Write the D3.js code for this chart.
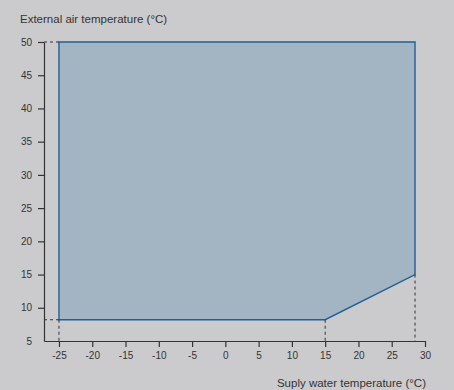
<!DOCTYPE html>
<html><head><meta charset="utf-8">
<script src="https://cdn.jsdelivr.net/npm/d3@7"></script>
<style>
html,body{margin:0;padding:0;background:#cbcbcd;}
svg{display:block;font-family:"Liberation Sans",Arial,sans-serif;}
</style></head>
<body>
<svg id="c" width="454" height="390"></svg>
<script>
const xTicks = [-25,-20,-15,-10,-5,0,5,10,15,20,25,30];
const yTicks = [5,10,15,20,25,30,35,40,45,50];
// operating envelope: supply water temp (x) vs external air temp (y)
const envX = [-25, -25, 28.5, 28.5, 15];
const envY = [8.2, 50, 50, 15, 8.2];
const xTitle = "Suply water temperature (°C)";
const yTitle = "External air temperature (°C)";

const svg = d3.select("#c");
const x = d3.scaleLinear().domain([-27.25, 30]).range([44, 425]);
const y = d3.scaleLinear().domain([5, 50]).range([341, 42]);
const ink = "#333";

const pts = envX.map((v,i)=>[x(v), y(envY[i])]);
svg.append("path")
  .attr("d", d3.line()(pts) + "Z")
  .attr("fill", "#a3b5c3")
  .attr("stroke", "#1f6096")
  .attr("stroke-width", 1.4);

// dashed guides
const dash = [
  [[x(-27.25), y(50)], [x(-25), y(50)]],
  [[x(-27.25), y(8.2)], [x(-25), y(8.2)]],
  [[x(-25), y(8.2)], [x(-25), y(5)]],
  [[x(15), y(8.2)], [x(15), y(5)]],
  [[x(28.5), y(15)], [x(28.5), y(5)]]
];
svg.selectAll("line.d").data(dash).join("line")
  .attr("x1", d=>d[0][0]).attr("y1", d=>d[0][1])
  .attr("x2", d=>d[1][0]).attr("y2", d=>d[1][1])
  .attr("stroke", ink).attr("stroke-width", 1).attr("stroke-dasharray", "3,3");

// axes
const fmt = d => String(d);
const gx = svg.append("g").attr("transform", `translate(0,${y(5)})`)
  .call(d3.axisBottom(x).tickValues(xTicks).tickFormat(fmt).tickSize(6).tickSizeOuter(0).tickPadding(5));
const gy = svg.append("g").attr("transform", `translate(${x(-27.25)},0)`)
  .call(d3.axisLeft(y).tickValues(yTicks).tickFormat(fmt).tickSize(6).tickSizeOuter(0).tickPadding(6));
[gx, gy].forEach(g=>{
  g.select(".domain").attr("stroke", ink).attr("stroke-width", 1.2);
  g.selectAll(".tick line").attr("stroke", ink).attr("stroke-width", 1.2);
  g.selectAll(".tick text").attr("fill", ink).attr("font-size", 10)
    .attr("font-family", "Liberation Sans, Arial, sans-serif");
});
gy.selectAll(".tick").filter(d=>d===5).select("line").remove();

svg.append("text").attr("x", 20).attr("y", 23).attr("fill", ink)
  .attr("font-size", 11.5).text(yTitle);
svg.append("text").attr("x", 426).attr("y", 387).attr("fill", ink)
  .attr("text-anchor", "end").attr("font-size", 11.5).text(xTitle);
</script>
</body></html>
